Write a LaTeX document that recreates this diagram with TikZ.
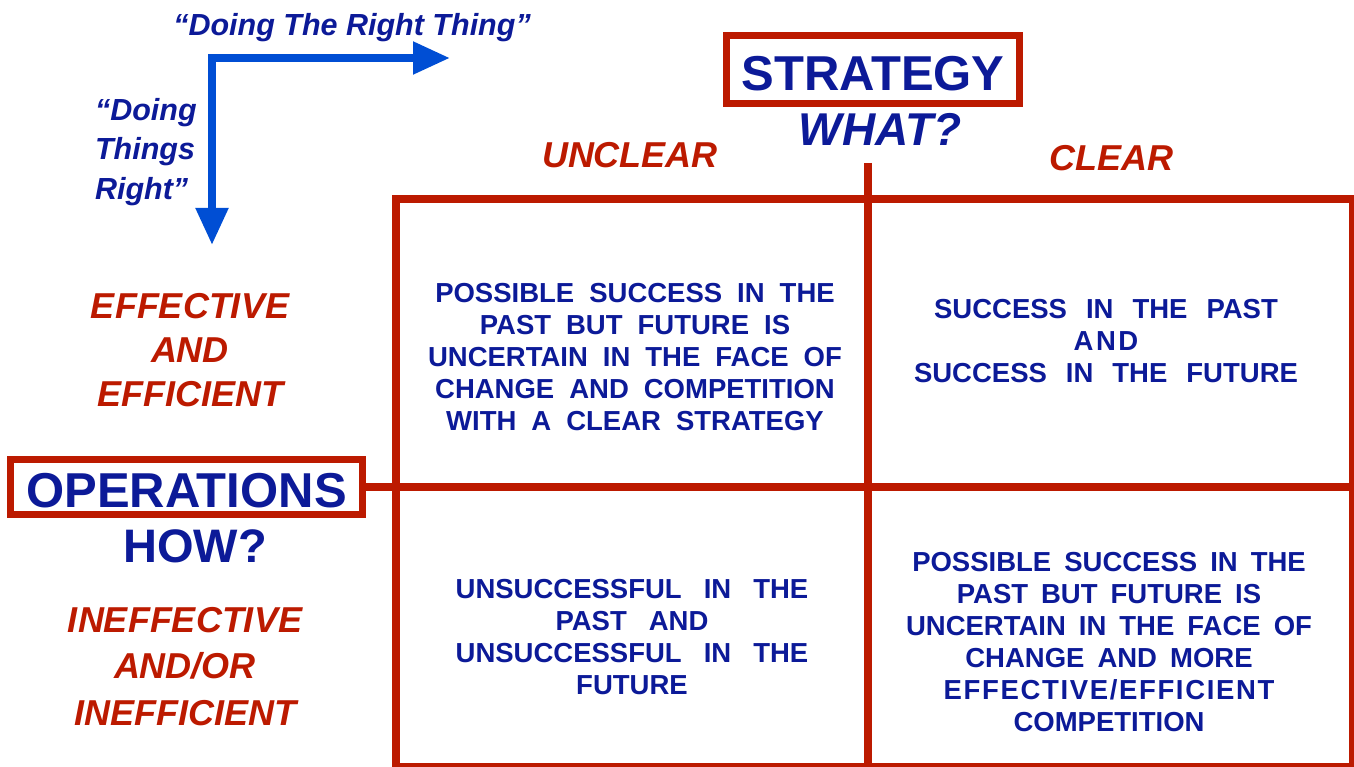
\documentclass[tikz,border=0pt]{standalone}
\usepackage{fontspec}
\setmainfont{Liberation Sans}
\usetikzlibrary{arrows.meta}

\definecolor{gridred}{RGB}{188,26,0}
\definecolor{navy}{RGB}{12,26,152}
\definecolor{arrowblue}{RGB}{0,78,212}

\begin{document}
\begin{tikzpicture}[x=1pt,y=-1pt,
  every node/.style={inner sep=0pt, outer sep=0pt},
  gridline/.style={draw=gridred, line width=8pt},
  titlebox/.style={draw=gridred, line width=7pt, text=navy,
    font=\fontsize{49}{58}\selectfont\bfseries, text depth=0pt},
  question/.style={text=navy, font=\fontsize{47}{56}\selectfont\bfseries},
  axislabel/.style={text=gridred, font=\fontsize{36}{44}\selectfont\bfseries\itshape},
  sidelabel/.style={text=gridred, align=center},
  quotelabel/.style={text=navy, font=\fontsize{30.5}{39.5}\selectfont\bfseries\itshape},
  celltext/.style={text=navy, align=center, anchor=north,
    font=\fontsize{27.5}{32}\selectfont\bfseries,
    execute at begin node={\spaceskip=#1\relax}},
  bigarrow/.style={draw=arrowblue, line width=8pt, line join=miter,
    {Triangle[length=37pt,width=31pt]}-{Triangle[length=37pt,width=31pt]}}
]
\useasboundingbox (0,0) rectangle (1354,767);

% headings with their framed boxes
\node[titlebox, minimum width=293pt, minimum height=68pt, text height=43pt]
  (strategy) at (873,69.5) {STRATEGY};
\node[question, anchor=north, font=\fontsize{46}{56}\selectfont\bfseries\itshape]
  (what) at (880,113) {WHAT?};
\node[titlebox, minimum width=352pt, minimum height=55pt, text height=40pt]
  (operations) at (186.5,487) {OPERATIONS};
\node[question, anchor=north] (how) at (195,530) {HOW?};

% column and row labels
\node[axislabel, anchor=north] (unclear) at (630,142) {UNCLEAR};
\node[axislabel, anchor=north] (clear) at (1111,145) {CLEAR};
\node[axislabel, sidelabel, anchor=north, font=\fontsize{36}{44}\selectfont\bfseries\itshape]
  (effective) at (190,293) {EFFECTIVE\\AND\\EFFICIENT};
\node[axislabel, sidelabel, anchor=north, font=\fontsize{36}{46.5}\selectfont\bfseries\itshape]
  (ineffective) at (185,607) {INEFFECTIVE\\AND/OR\\INEFFICIENT};

% two-by-two grid
\coordinate (gNW) at (396,199);
\coordinate (gSE) at (1353,767);
\coordinate (gS) at (868,767);
\coordinate (gE) at (1353,487);
\coordinate (stub) at (868,163);
\draw[gridline] (gNW) rectangle (gSE);
\draw[gridline] (stub) -- (gS);
\draw[gridline] (operations.east) -- (gE);

% quadrant statements
\node[celltext=15pt] (cellTL) at (635,283)
  {POSSIBLE SUCCESS IN THE\\PAST BUT FUTURE IS\\UNCERTAIN IN THE FACE OF\\CHANGE AND COMPETITION\\WITH A CLEAR STRATEGY};
\node[celltext=19pt] (cellTR) at (1106,299)
  {SUCCESS IN THE PAST\\{\addfontfeature{LetterSpace=9}AND}\\SUCCESS IN THE FUTURE};
\node[celltext=22pt] (cellBL) at (632,579)
  {UNSUCCESSFUL IN THE\\PAST AND\\UNSUCCESSFUL IN THE\\FUTURE};
\node[celltext=13pt] (cellBR) at (1109,552)
  {POSSIBLE SUCCESS IN THE\\PAST BUT FUTURE IS\\UNCERTAIN IN THE FACE OF\\CHANGE AND MORE\\{\addfontfeature{LetterSpace=6}EFFECTIVE/EFFICIENT}\\COMPETITION};

% direction arrows
\coordinate (corner) at (212,58);
\coordinate (rightTip) at (450,58);
\coordinate (downTip) at (212,245);
\draw[bigarrow] (downTip) -- (corner) -- (rightTip);
\node[quotelabel, anchor=north] (rightThing) at (352,13) {“Doing The Right Thing”};
\node[quotelabel, anchor=north west, align=left] (thingsRight) at (95,98)
  {“Doing\\Things\\Right”};
\end{tikzpicture}
\end{document}
